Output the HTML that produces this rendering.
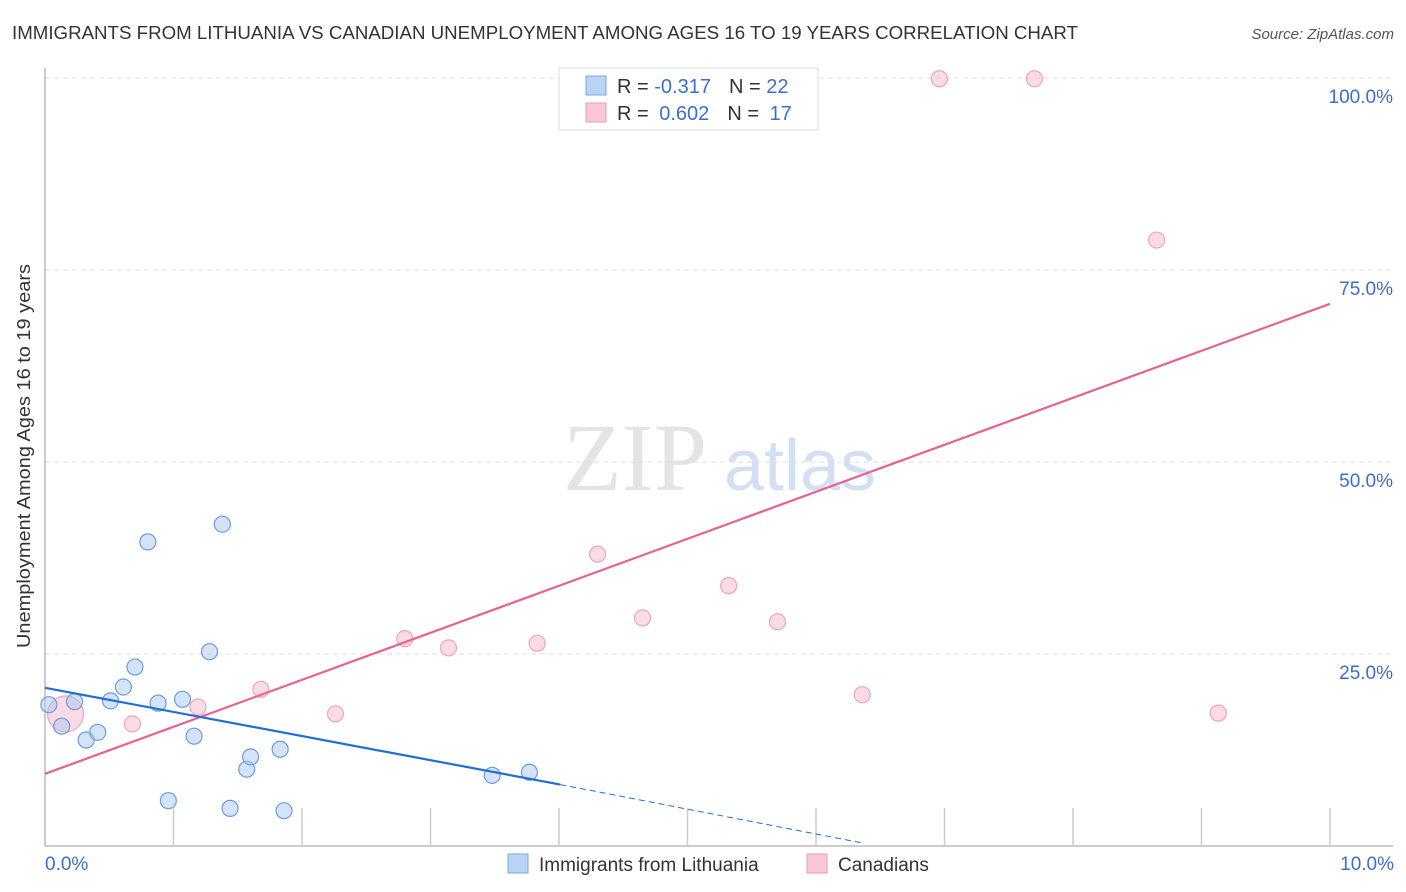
<!DOCTYPE html>
<html><head><meta charset="utf-8"><style>
body{margin:0;background:#fff;font-family:"Liberation Sans",sans-serif;}
svg{display:block}
</style></head><body>
<svg id="c" width="1406" height="892">
<text x="12" y="39" font-size="18" fill="#333" textLength="1066" lengthAdjust="spacingAndGlyphs">IMMIGRANTS FROM LITHUANIA VS CANADIAN UNEMPLOYMENT AMONG AGES 16 TO 19 YEARS CORRELATION CHART</text>
<text x="1394" y="39" font-size="15" fill="#555" font-style="italic" text-anchor="end">Source: ZipAtlas.com</text>
<text x="30" y="456" font-size="18" fill="#333" text-anchor="middle" textLength="384" lengthAdjust="spacingAndGlyphs" transform="rotate(-90 30 456)">Unemployment Among Ages 16 to 19 years</text>
<g><text x="635" y="490" font-size="96" font-family="Liberation Serif,serif" fill="#e4e4e4" text-anchor="middle">ZIP</text><text x="800" y="490" font-size="72" fill="#d3e0f3" text-anchor="middle">atlas</text></g>
<g id="grid"></g><g id="marks"></g>
<g>
<rect x="559" y="68" width="259" height="62" fill="#fff" stroke="#ddd"/>
<rect x="586" y="76" width="20" height="19" fill="#b9d3f5" stroke="#7aa7e6"/>
<rect x="586" y="103" width="20" height="19" fill="#f9c7d6" stroke="#ef9ab5"/>
<text x="617" y="93" font-size="20" fill="#333">R = <tspan fill="#3a6fd0">-0.317</tspan><tspan dx="18">N = </tspan><tspan fill="#3a6fd0">22</tspan></text>
<text x="617" y="120" font-size="20" fill="#333">R = <tspan fill="#3a6fd0" dx="5">0.602</tspan><tspan dx="18">N = </tspan><tspan fill="#3a6fd0" dx="5">17</tspan></text>
</g>
<g>
<rect x="508" y="854" width="20" height="19" fill="#b9d3f5" stroke="#7aa7e6"/>
<text x="539" y="871" font-size="19" fill="#333">Immigrants from Lithuania</text>
<rect x="807" y="854" width="20" height="19" fill="#f9c7d6" stroke="#ef9ab5"/>
<text x="838" y="871" font-size="19" fill="#333">Canadians</text>
</g>
</svg>
<script>
const blueX=[0.03,0.13,0.23,0.32,0.41,0.51,0.61,0.70,0.80,0.88,0.96,1.07,1.16,1.28,1.38,1.44,1.57,1.60,1.83,1.86,3.48,3.77];
const blueY=[18.4,15.6,18.8,13.8,14.8,18.9,20.7,23.3,39.6,18.6,5.9,19.1,14.3,25.3,41.9,4.9,10.0,11.6,12.6,4.6,9.2,9.6];
const pinkX=[0.16,0.68,1.19,1.68,2.26,2.80,3.14,3.83,4.30,4.65,5.32,5.70,6.36,6.96,7.70,8.65,9.13];
const pinkY=[17.2,15.9,18.1,20.4,17.2,27.0,25.8,26.4,38.0,29.7,33.9,29.2,19.7,99.9,99.9,78.9,17.3];
const pinkR=[18,8,8,8,8,8,8,8,8,8,8,8,8,8,8,8,8];
const blueLine=[[0,20.6],[4.01,8.0]];
const blueDash=[[4.01,8.0],[6.36,0.4]];
const pinkLine=[[0,9.4],[10,70.6]];
const yTicks=[25,50,75,100];
const yTickLabels=["25.0%","50.0%","75.0%","100.0%"];
const xTicks=[1,2,3,4,5,6,7,8,9,10];
const xLabels=[[0,"0.0%"],[10,"10.0%"]];
const sx=v=>45+v*128.5, sy=v=>846-v*7.68;
const NS="http://www.w3.org/2000/svg";
function mk(p,t,a){const e=document.createElementNS(NS,t);for(const k in a)e.setAttribute(k,a[k]);p.appendChild(e);return e;}
const g=document.getElementById('grid'),m=document.getElementById('marks');
yTicks.forEach((t,i)=>{
 const l=mk(g,'line',{x1:45,x2:1393,y1:sy(t),y2:sy(t),stroke:'#ddd','stroke-dasharray':'5,4'});
 
 
 const tx=mk(g,'text',{x:1393,y:sy(t)+25,'font-size':19,fill:'#3a6fd0','text-anchor':'end'});
 tx.textContent=yTickLabels[i];
 
 
});
xTicks.forEach(t=>{
 const l=mk(g,'line',{x1:sx(t),x2:sx(t),y1:808,y2:845,stroke:'#ccc','stroke-width':1.5});
 
 
});
xLabels.forEach(([v,s],i)=>{
 const tx=mk(g,'text',{x:i?sx(v)+64:sx(v),y:870,'font-size':19,fill:'#3a6fd0','text-anchor':i?'end':'start'});
 tx.textContent=s;
 
 
});
let ax=mk(g,'line',{x1:45,x2:45,y1:68,y2:846,stroke:'#bbb','stroke-width':1.5});


ax=mk(g,'line',{x1:45,x2:1393,y1:846,y2:846,stroke:'#bbb','stroke-width':1.5});


pinkX.forEach((x,i)=>{
 const c=mk(m,'circle',{cx:sx(x),cy:sy(pinkY[i]),r:pinkR[i],fill:'rgba(246,178,200,0.45)',stroke:'#f0a3bc','stroke-width':1.2});
 
 
});
blueX.forEach((x,i)=>{
 const c=mk(m,'circle',{cx:sx(x),cy:sy(blueY[i]),r:8,fill:'rgba(170,200,240,0.5)',stroke:'#6a9de0','stroke-width':1.2});
 
 
});
let l=mk(m,'line',{x1:sx(pinkLine[0][0]),y1:sy(pinkLine[0][1]),x2:sx(pinkLine[1][0]),y2:sy(pinkLine[1][1]),stroke:'#e8628f','stroke-width':2.2});


l=mk(m,'line',{x1:sx(blueLine[0][0]),y1:sy(blueLine[0][1]),x2:sx(blueLine[1][0]),y2:sy(blueLine[1][1]),stroke:'#1f6fd6','stroke-width':2.2});


l=mk(m,'line',{x1:sx(blueDash[0][0]),y1:sy(blueDash[0][1]),x2:sx(blueDash[1][0]),y2:sy(blueDash[1][1]),stroke:'#1f6fd6','stroke-width':1,'stroke-dasharray':'6,4'});


</script>
</body></html>
